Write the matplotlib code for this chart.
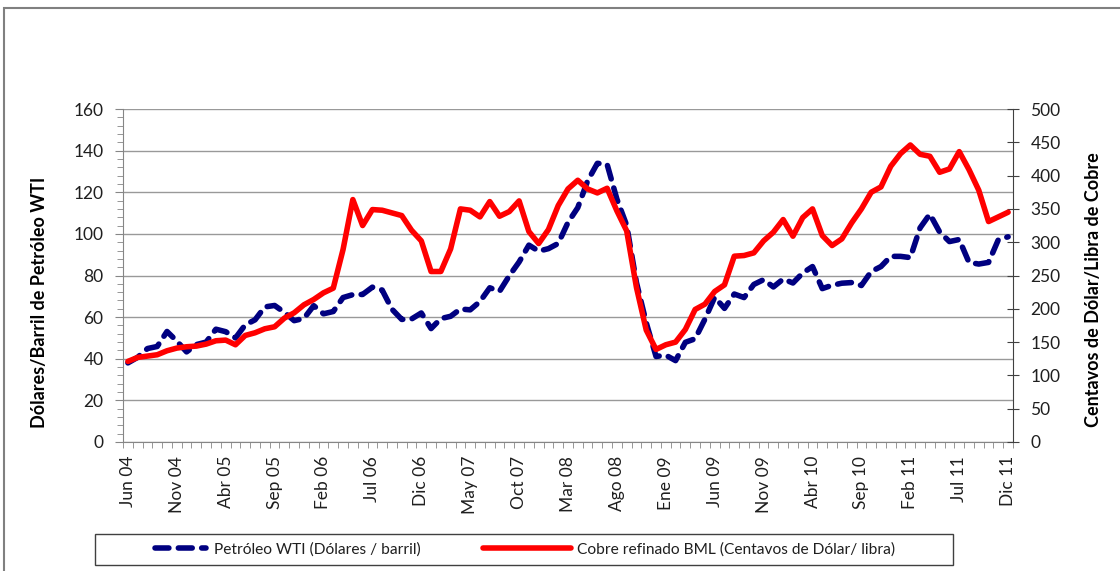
import numpy as np
import matplotlib
matplotlib.use("Agg")
import matplotlib.pyplot as plt
from matplotlib.patches import Rectangle
from matplotlib.ticker import MultipleLocator, FixedLocator

plt.rcParams['font.family'] = ['Lato', 'DejaVu Sans']

# monthly data Jun 04 .. Dic 11
tick_labels = ["Jun 04", "Nov 04", "Abr 05", "Sep 05", "Feb 06", "Jul 06", "Dic 06",
               "May 07", "Oct 07", "Mar 08", "Ago 08", "Ene 09", "Jun 09", "Nov 09",
               "Abr 10", "Sep 10", "Feb 11", "Jul 11", "Dic 11"]

petroleo = [38.0, 40.7, 44.9, 45.9, 53.1, 48.5, 43.3, 46.8, 48.0, 54.2,
            53.0, 50.0, 56.3, 58.7, 64.9, 65.6, 62.3, 58.3, 59.4, 65.5,
            61.6, 62.7, 69.4, 70.8, 70.9, 74.4, 73.0, 63.8, 58.9, 59.1,
            62.0, 54.5, 59.3, 60.4, 63.9, 63.5, 67.5, 74.1, 72.4, 79.9,
            86.5, 94.6, 91.7, 92.9, 95.4, 105.5, 112.6, 125.4, 133.9, 133.4,
            116.7, 104.1, 76.6, 57.3, 41.1, 41.7, 39.1, 47.9, 49.6, 59.0,
            69.6, 64.2, 71.1, 69.4, 75.7, 78.0, 74.5, 78.3, 76.4, 81.2,
            84.3, 73.7, 75.3, 76.3, 76.6, 75.2, 81.9, 84.3, 89.2, 89.2,
            88.6, 102.9, 109.5, 100.9, 96.3, 97.3, 86.3, 85.5, 86.3, 97.2,
            98.6]

cobre = [121, 127, 129, 131, 137, 141, 143, 144, 147, 152,
         153, 146, 160, 164, 170, 173, 186, 194, 206, 214,
         224, 231, 289, 364, 325, 349, 348, 344, 340, 318,
         302, 256, 256, 290, 350, 348, 338, 361, 339, 346,
         362, 316, 298, 319, 355, 380, 393, 380, 374, 381,
         347, 317, 232, 168, 139, 146, 150, 169, 199, 207,
         226, 236, 279, 280, 284, 302, 315, 334, 309, 337,
         350, 310, 295, 305, 329, 350, 375, 383, 414, 433,
         446, 432, 429, 405, 410, 436, 409, 378, 331, 338,
         345]

x = np.arange(len(petroleo))
W, H = 1120, 571
txt_color = '#1f1f1f'

fig = plt.figure(figsize=(W / 100, H / 100), dpi=100)
ax = fig.add_axes([123 / W, 1 - 442 / H, 890 / W, 333 / H])
ax2 = ax.twinx()

l1, = ax.plot(x, petroleo, color='#000080', lw=4.0, linestyle=(0, (2.5, 1.7)),
              dash_capstyle='round', zorder=3)
l2, = ax2.plot(x, cobre, color='#ff0000', lw=4.0, solid_joinstyle='round',
               solid_capstyle='round')

# axes ranges / ticks
ax.set_xlim(-0.5, len(x) - 0.5)
ax.set_ylim(0, 160)
ax2.set_ylim(0, 500)
ax.yaxis.set_major_locator(MultipleLocator(20))
ax.yaxis.set_minor_locator(MultipleLocator(4))
ax2.yaxis.set_major_locator(MultipleLocator(50))
ax.grid(axis='y', color='#999999', lw=1)
ax.set_axisbelow(True)

ax.set_xticks(x[::5])
ax.set_xticklabels(tick_labels, rotation=90)
ax.xaxis.set_minor_locator(FixedLocator(np.arange(-0.5, len(x), 1)))
ax.tick_params(axis='x', which='major', length=0, pad=10, labelsize=12.5, labelcolor=txt_color)
ax.tick_params(axis='x', which='minor', length=4, color='#868686')
ax.tick_params(axis='y', which='major', length=6, color='#868686', pad=8, labelsize=12.5,
               labelcolor=txt_color)
ax.tick_params(axis='y', which='minor', length=4, color='#868686')
ax2.tick_params(axis='y', which='major', direction='inout', length=9, color='#404040',
                pad=8, labelsize=12.5, labelcolor=txt_color)

for s in ['top', 'right']:
    ax.spines[s].set_visible(False)
ax.spines['left'].set_color('#868686')
ax.spines['bottom'].set_color('#868686')
ax2.spines['top'].set_visible(False)
ax2.spines['left'].set_visible(False)
ax2.spines['bottom'].set_visible(False)
ax2.spines['right'].set_color('#404040')

ax.set_ylabel('Dólares/Barril de Petróleo WTI', fontweight='bold', fontsize=13)
ax.yaxis.set_label_coords((48 - 123) / 890, (442 - 302) / 333)
ax2.set_ylabel('Centavos de Dólar/Libra de Cobre', fontweight='bold', fontsize=13,
               rotation=90)
ax2.yaxis.set_label_coords((1085 - 123) / 890, (442 - 290) / 333)

# outer frame and legend box
fig.add_artist(Rectangle((4 / W, -0.1), 1.2, 1.1 - 8 / H, transform=fig.transFigure,
                         fill=False, ec='#808080', lw=1.5))
fig.add_artist(Rectangle((95 / W, 1 - 565 / H), 858 / W, 31 / H, transform=fig.transFigure,
                         fill=False, ec='#404040', lw=1))

ly = 1 - 549.5 / H
fig.legend(handles=[l1], labels=['Petróleo WTI (Dólares / barril)'], loc='center left',
           bbox_to_anchor=(154.5 / W, ly), frameon=False, borderpad=0, borderaxespad=0,
           handlelength=3.3, handletextpad=0.5, fontsize=11.2, labelcolor=txt_color)
fig.legend(handles=[l2], labels=['Cobre refinado BML (Centavos de Dólar/ libra)'],
           loc='center left', bbox_to_anchor=(482.5 / W, ly), frameon=False, borderpad=0,
           borderaxespad=0, handlelength=5.7, handletextpad=0.4, fontsize=11.2,
           labelcolor=txt_color)

fig.savefig('out.png', dpi=100)
